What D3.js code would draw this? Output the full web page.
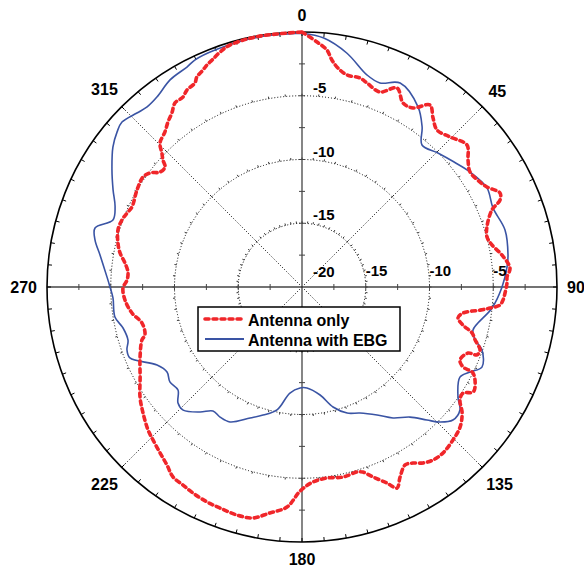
<!DOCTYPE html>
<html>
<head>
<meta charset="utf-8">
<script src="https://cdn.jsdelivr.net/npm/d3@7"></script>
<style>
  html, body { margin: 0; padding: 0; background: #fff; }
  svg text { font-family: Arial, "Liberation Sans", sans-serif; font-weight: bold; }
</style>
</head>
<body>
<svg id="chart" width="584" height="566"></svg>
<script>
// radial levels (dB) and angle labels (deg)
const levels = [-20, -15, -10, -5, 0];
const gridLevels = [-15, -10, -5];
const angleLabels = [0, 45, 90, 135, 180, 225, 270, 315];
const seriesNames = ['Antenna only', 'Antenna with EBG'];

// Antenna only: [angle deg, dB]
const antennaOnly = [
  [0, 0], [3.5, -0.75], [6, -1.31], [7.5, -2.04], [9.3, -2.59], [12, -3.0], [15.5, -2.99],
  [17.7, -3.21], [21.8, -3.53], [25.5, -2.7], [28.8, -3.54], [31.8, -3.48], [35.1, -2.55],
  [37.8, -3.23], [40.7, -3.76], [44.6, -3.47], [49.3, -2.93], [52.6, -3.61], [55.6, -4.03],
  [59.5, -3.79], [61.6, -3.51], [64.6, -2.81], [66.3, -3.04], [67.9, -3.92], [72, -4.75],
  [74.9, -4.97], [77.5, -4.74], [80.9, -4.12], [84.8, -3.62], [87.2, -3.9], [88.9, -3.92],
  [91.7, -4.07], [93.7, -4.2], [95.2, -4.41], [96.4, -5.16], [97.4, -5.92], [99.2, -7.21],
  [101.2, -7.53], [103.3, -7.03], [105.1, -6.19], [107, -5.8], [109.5, -5.19], [111.2, -5.28],
  [111.7, -5.99], [114.8, -6.35], [116.4, -5.9], [116.7, -4.99], [120, -4.33], [121.6, -4.26],
  [123.4, -4.88], [125.6, -4.76], [128.2, -4.02], [131.5, -3.44], [135.4, -3.14], [139.7, -2.92],
  [142.9, -2.98], [145.5, -3.25], [147.8, -3.68], [149.9, -3.87], [152.7, -3.23], [154.7, -2.56],
  [156.6, -3.25], [159.5, -4.09], [161.8, -4.72], [163.4, -4.86], [167.8, -4.75], [172.5, -4.89],
  [176.8, -4.68], [180.5, -4.0], [183.9, -2.7], [188.1, -2.1], [192, -1.48], [195.9, -1.4],
  [200.4, -1.51], [203.8, -1.57], [207.9, -1.72], [211, -1.88], [214.2, -1.99], [217.2, -2.48],
  [220.5, -2.87], [224.2, -3.25], [227.1, -3.52], [231.6, -4.09], [235.8, -4.64], [240.9, -5.47],
  [246.6, -6.16], [251.7, -6.78], [253, -7.12], [257.3, -7.14], [261.3, -6.51], [265.8, -6.08],
  [269.7, -5.96], [272.3, -6.27], [274.9, -6.3], [277.7, -5.99], [280.6, -5.48], [283.4, -5.16],
  [287.2, -4.89], [290.4, -4.93], [292.9, -5.1], [295.2, -5.26], [300.4, -4.99], [304.7, -4.84],
  [306.9, -5.1], [309, -5.67], [311.2, -5.72], [312.4, -5.23], [313.7, -4.8], [315.4, -4.14],
  [318.5, -3.77], [320.9, -3.33], [323.2, -2.96], [325.4, -2.46], [327.9, -2.42], [329.7, -2.11],
  [332.3, -1.93], [333.4, -1.58], [335.5, -1.29], [336.8, -1.06], [338.4, -0.85], [340.8, -0.48],
  [343.4, -0.2], [350, -0.05], [360, 0],
];

// Antenna with EBG: [angle deg, dB]
const antennaEbg = [
  [0, -0.1], [5, -0.4], [10.9, -1.33], [17, -2.6], [20.9, -2.87], [25.7, -2.25], [32.8, -3.2],
  [36.9, -4.31], [40.2, -5.42], [45.4, -5.03], [50.6, -4.56], [55.6, -4.03], [61.8, -3.54],
  [67.5, -3.79], [74.3, -3.46], [81.2, -3.65], [84.4, -3.84], [90, -4.31], [96.3, -5.0],
  [104.1, -6.17], [107, -5.8], [109.3, -5.04], [114, -4.55], [116.8, -5.23], [119.7, -5.74],
  [125.2, -5.03], [127.9, -4.3], [131.4, -4.22], [134.4, -4.86], [136.8, -5.69], [140.3, -6.74],
  [145.2, -7.49], [149.6, -8.36], [155.3, -9.12], [160.3, -9.5], [165.5, -10.28], [170.5, -11.41],
  [177.2, -12.07], [181.1, -12.08], [186.5, -11.63], [191.5, -10.16], [196.9, -9.5], [201.6, -8.95],
  [208.1, -8.0], [212.2, -7.94], [215.7, -8.03], [219.2, -7.35], [224, -6.58], [226.9, -6.68],
  [230.3, -7.36], [234.3, -7.24], [237.8, -7.49], [241.7, -7.09], [247.6, -5.4], [250.2, -5.41],
  [253, -5.73], [257.1, -5.6], [260.9, -5.14], [266.7, -5.15], [270, -4.94], [272.9, -4.69],
  [279, -3.96], [282.8, -3.35], [285.9, -3.12], [289.5, -4.27], [293.2, -4.05], [297.2, -3.34],
  [301.6, -2.5], [306.5, -1.55], [310, -1.07], [312.5, -0.85], [316.5, -1.19], [319.3, -1.37],
  [322.7, -1.25], [327.5, -0.74], [332.4, -0.53], [334.8, -0.31], [340, -0.2], [350, -0.1],
  [360, -0.1],
];

const cx = 302;
const cy = 287;
const outerR = 255;

const svg = d3.select('#chart');
const g = svg.append('g').attr('transform', `translate(${cx},${cy})`);

const r = d3.scaleLinear().domain([-20, 0]).range([0, outerR]);
const a = d3.scaleLinear().domain([0, 360]).range([0, 2 * Math.PI]);
const px = (deg, rad) => rad * Math.sin(a(deg));
const py = (deg, rad) => -rad * Math.cos(a(deg));

// dotted grid circles with small tick marks
gridLevels.forEach((v) => {
  g.append('circle')
    .attr('r', r(v))
    .attr('fill', 'none')
    .attr('stroke', '#000')
    .attr('stroke-width', 1)
    .attr('stroke-dasharray', '1,2');
  g.append('g')
    .selectAll('line')
    .data(d3.range(0, 360, 5))
    .join('line')
    .attr('x1', (d) => px(d, r(v)))
    .attr('y1', (d) => py(d, r(v)))
    .attr('x2', (d) => px(d, r(v) + 2))
    .attr('y2', (d) => py(d, r(v) + 2))
    .attr('stroke', '#000')
    .attr('stroke-width', 0.8);
});

// diagonal dotted spokes
[45, 135, 225, 315].forEach((d) => {
  g.append('line')
    .attr('x1', 0).attr('y1', 0)
    .attr('x2', px(d, outerR)).attr('y2', py(d, outerR))
    .attr('stroke', '#000')
    .attr('stroke-width', 1)
    .attr('stroke-dasharray', '1,2');
});

// solid main axes
[0, 90].forEach((d) => {
  g.append('line')
    .attr('x1', px(d, outerR)).attr('y1', py(d, outerR))
    .attr('x2', px(d + 180, outerR)).attr('y2', py(d + 180, outerR))
    .attr('stroke', '#444')
    .attr('stroke-width', 1.3);
});

// minor ticks on main axes every 2.5 dB
const axisTicks = d3.range(-17.5, 0, 2.5);
[0, 90, 180, 270].forEach((d) => {
  g.append('g')
    .selectAll('line')
    .data(axisTicks)
    .join('line')
    .attr('x1', (v) => px(d, r(v)) + 3 * Math.cos(a(d)))
    .attr('y1', (v) => py(d, r(v)) + 3 * Math.sin(a(d)))
    .attr('x2', (v) => px(d, r(v)) - 3 * Math.cos(a(d)))
    .attr('y2', (v) => py(d, r(v)) - 3 * Math.sin(a(d)))
    .attr('stroke', '#444')
    .attr('stroke-width', 1);
});

// outer circle + inward ticks every 5 degrees
g.append('circle')
  .attr('r', outerR)
  .attr('fill', 'none')
  .attr('stroke', '#000')
  .attr('stroke-width', 1.6);
g.append('g')
  .selectAll('line')
  .data(d3.range(0, 360, 5))
  .join('line')
  .attr('x1', (d) => px(d, outerR))
  .attr('y1', (d) => py(d, outerR))
  .attr('x2', (d) => px(d, outerR - 4))
  .attr('y2', (d) => py(d, outerR - 4))
  .attr('stroke', '#000')
  .attr('stroke-width', 1);

// series
const line = d3.lineRadial()
  .angle((d) => a(d[0]))
  .radius((d) => r(d[1]))
  .curve(d3.curveCatmullRom.alpha(0.5));

g.append('path')
  .datum(antennaEbg)
  .attr('d', line)
  .attr('fill', 'none')
  .attr('stroke', '#3a54a4')
  .attr('stroke-width', 1.6);

g.append('path')
  .datum(antennaOnly)
  .attr('d', line)
  .attr('fill', 'none')
  .attr('stroke', '#f0262a')
  .attr('stroke-width', 3.6)
  .attr('stroke-dasharray', '4,4')
  .attr('stroke-linecap', 'round');

// radial labels on the vertical axis
levels.filter((v) => v < 0).forEach((v) => {
  g.append('text')
    .attr('x', 11)
    .attr('y', py(0, r(v)) - (v === -20 ? 10 : 3))
    .attr('font-size', 15)
    .attr('fill', '#000')
    .text(v);
});
// radial labels on the horizontal axis
gridLevels.forEach((v) => {
  g.append('text')
    .attr('x', px(90, r(v)))
    .attr('y', -11)
    .attr('font-size', 15)
    .attr('fill', '#000')
    .text(v);
});

// angle labels
angleLabels.forEach((d) => {
  const t = g.append('text')
    .attr('font-size', 16)
    .attr('text-anchor', 'middle')
    .attr('dominant-baseline', 'central')
    .attr('fill', '#000')
    .text(d);
  const w = t.node().getComputedTextLength();
  const rr = 265 + Math.abs(Math.sin(a(d))) * w / 2 + Math.abs(Math.cos(a(d))) * 7;
  t.attr('x', px(d, rr)).attr('y', py(d, rr));
});

// legend
const legend = svg.append('g').attr('transform', 'translate(198,307)');
legend.append('rect')
  .attr('width', 202)
  .attr('height', 44)
  .attr('fill', '#fff')
  .attr('stroke', '#000')
  .attr('stroke-width', 1.5);
const legendStyles = [
  { stroke: '#f0262a', width: 3.6, dash: '4,4' },
  { stroke: '#3a54a4', width: 2, dash: null },
];
seriesNames.forEach((name, i) => {
  const row = legend.append('g').attr('transform', `translate(0,${12 + i * 20})`);
  row.append('line')
    .attr('x1', 7).attr('x2', 46)
    .attr('stroke', legendStyles[i].stroke)
    .attr('stroke-width', legendStyles[i].width)
    .attr('stroke-dasharray', legendStyles[i].dash)
    .attr('stroke-linecap', legendStyles[i].dash ? 'round' : 'butt');
  row.append('text')
    .attr('x', 50)
    .attr('y', 7)
    .attr('font-size', 16)
    .attr('fill', '#000')
    .text(name);
});
</script>
</body>
</html>
